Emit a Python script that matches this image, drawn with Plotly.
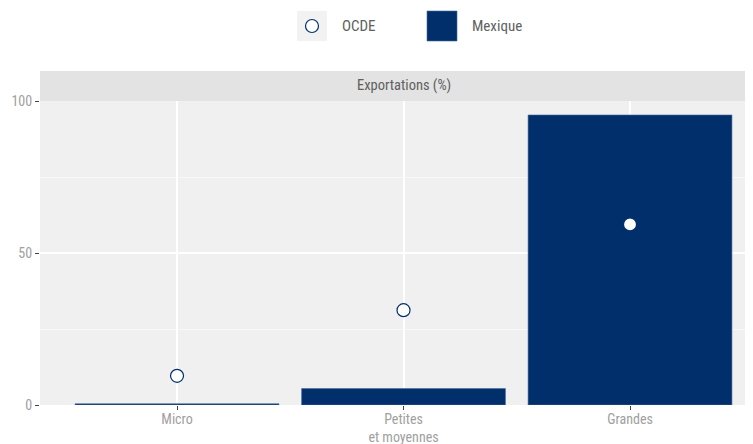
import plotly.graph_objects as go

# data
categories = ["Micro", "Petites<br>et moyennes", "Grandes"]
mexique = [0.4, 5.4, 95.4]
ocde = [9.6, 31.2, 59.4]
y_ticks = [0, 50, 100]

NAVY = "#002f6c"
FONT = "Liberation Sans Narrow, Roboto Condensed, Roboto, sans-serif"

x_pos = list(range(len(categories)))

fig = go.Figure()
fig.add_trace(go.Bar(
    x=x_pos, y=mexique, name="Mexique", width=0.9,
    marker=dict(color=NAVY, line=dict(color="#4a6a99", width=0.6)),
))
fig.add_trace(go.Scatter(
    x=x_pos, y=ocde, name="OCDE", mode="markers",
    marker=dict(size=13, color="white", line=dict(color=NAVY, width=1.2)),
))

# the page body has an 8px margin, so the figure is 8px smaller
fig.update_layout(
    width=745, height=436,
    margin=dict(l=32, r=0, t=93, b=39),
    paper_bgcolor="white", plot_bgcolor="#f0f0f0",
    showlegend=False,
    font=dict(family=FONT, size=14, color="#999999"),
    bargap=0.1,
)
fig.update_xaxes(
    tickmode="array", tickvals=x_pos, ticktext=categories,
    range=[-0.605, 2.543], automargin=False,
    showgrid=True, gridcolor="white", gridwidth=1.5,
    ticks="outside", ticklen=4, tickcolor="#444444", tickwidth=1,
    ticklabelstandoff=-3,
    zeroline=False, tickfont=dict(size=14, color="#a0a0a0"),
)
fig.update_yaxes(
    tickvals=y_ticks, range=[0, 100], automargin=False,
    showgrid=True, gridcolor="white", gridwidth=1.5,
    minor=dict(tickvals=[25, 75], showgrid=True, gridcolor="#f8f8f8", gridwidth=1),
    ticks="outside", ticklen=4, tickcolor="#444444", tickwidth=1,
    zeroline=False, tickfont=dict(size=14, color="#a0a0a0"),
)

# legend / strip positions in screen pixels
def px_x(p):
    return (p - 40) / 713

def px_y(p):
    return (405 - p) / 304

# facet strip
fig.add_shape(type="rect", xref="paper", yref="paper",
              x0=0, x1=1, y0=1, y1=1 + 30 / 304,
              fillcolor="#e3e3e3", line=dict(width=0), layer="below")
fig.add_annotation(text="Exportations (%)", xref="paper", yref="paper",
                   x=px_x(403.5), y=1 + 15 / 304, showarrow=False,
                   font=dict(size=14.5, color="#606060"), yanchor="middle")

# legend drawn by hand (ggplot-style keys)
fig.add_shape(type="rect", xref="paper", yref="paper",
              x0=px_x(297), x1=px_x(327), y0=px_y(41), y1=px_y(11),
              fillcolor="#f2f2f2", line=dict(width=0))
fig.add_shape(type="circle", xref="paper", yref="paper",
              x0=px_x(305.5), x1=px_x(318.5), y0=px_y(32.5), y1=px_y(19.5),
              fillcolor="white", line=dict(color=NAVY, width=1.2))
fig.add_annotation(text="OCDE", xref="paper", yref="paper",
                   x=px_x(340), y=px_y(26), xanchor="left", yanchor="middle",
                   showarrow=False, font=dict(size=15, color="#606060"))
fig.add_shape(type="rect", xref="paper", yref="paper",
              x0=px_x(427), x1=px_x(457), y0=px_y(41), y1=px_y(11),
              fillcolor=NAVY, line=dict(color="#4a6a99", width=0.6))
fig.add_annotation(text="Mexique", xref="paper", yref="paper",
                   x=px_x(470), y=px_y(26), xanchor="left", yanchor="middle",
                   showarrow=False, font=dict(size=15, color="#606060"))

fig.write_html("out.html")
